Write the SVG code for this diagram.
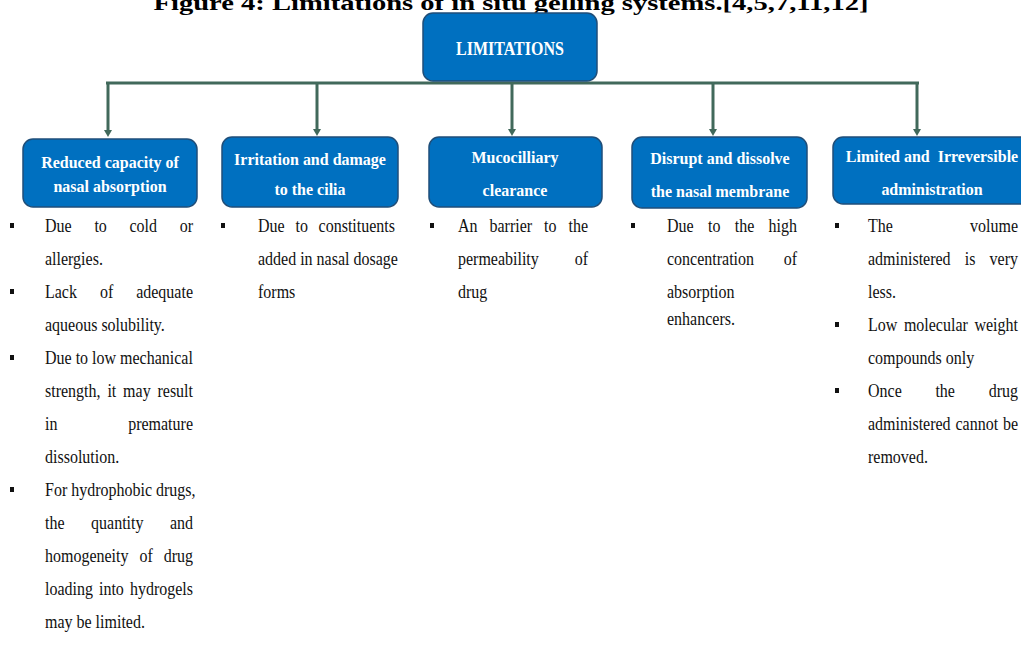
<svg xmlns="http://www.w3.org/2000/svg" width="1021" height="651" viewBox="0 0 1021 651">
<style>
.box{fill:#0070c0;stroke:#1f4e79;stroke-width:1.5}
.hd{font-family:"Liberation Serif","Times New Roman",serif;font-weight:bold;font-size:16px;fill:#ffffff;text-anchor:middle}
.bd{font-family:"Liberation Serif","Times New Roman",serif;font-size:16px;fill:#111111}
.e{text-anchor:end}
.conn{stroke:#41695b;stroke-width:3;fill:none}
.bul{fill:#111111}
.ttl{font-family:"Liberation Serif","Times New Roman",serif;font-weight:bold;font-size:20px;fill:#000000;text-anchor:middle}
</style>
<defs>
<marker id="ah" markerUnits="userSpaceOnUse" markerWidth="9" markerHeight="9" refX="1" refY="4" orient="auto">
<path d="M0,0 L7,4 L0,8 z" fill="#41695b"/>
</marker>
</defs>
<rect width="1021" height="651" fill="#ffffff"/>
<text class="ttl" x="511" y="10" textLength="715" lengthAdjust="spacingAndGlyphs">Figure 4: Limitations of in situ gelling systems.[4,5,7,11,12]</text>

<g id="connectors">
<path class="conn" d="M106,83 H919"/>
<path class="conn" d="M108,83 V131" marker-end="url(#ah)"/>
<path class="conn" d="M317,83 V130" marker-end="url(#ah)"/>
<path class="conn" d="M512,83 V130" marker-end="url(#ah)"/>
<path class="conn" d="M713,83 V130" marker-end="url(#ah)"/>
<path class="conn" d="M917,83 V130" marker-end="url(#ah)"/>
</g>

<g id="limitations">
<rect class="box" x="423" y="13" width="174" height="68" rx="10"/>
<text class="hd" x="510" y="55" font-size="15.5" transform="matrix(1 0 0 1.2 0 -11)">LIMITATIONS</text>
</g>

<g id="n1">
<rect class="box" x="23" y="139" width="174" height="68" rx="10"/>
<text class="hd" x="110" y="168" transform="matrix(1 0 0 1.1 0 -16.8)">Reduced capacity of</text>
<text class="hd" x="110" y="192" transform="matrix(1 0 0 1.1 0 -19.2)">nasal absorption</text>
</g>
<g id="n2">
<rect class="box" x="222" y="137" width="176" height="70" rx="10"/>
<text class="hd" x="310" y="165" transform="matrix(1 0 0 1.1 0 -16.5)">Irritation and damage</text>
<text class="hd" x="310" y="195" transform="matrix(1 0 0 1.1 0 -19.5)">to the cilia</text>
</g>
<g id="n3">
<rect class="box" x="429" y="137" width="173" height="70" rx="10"/>
<text class="hd" x="515" y="163" transform="matrix(1 0 0 1.1 0 -16.3)">Mucocilliary</text>
<text class="hd" x="515" y="196" transform="matrix(1 0 0 1.1 0 -19.6)">clearance</text>
</g>
<g id="n4">
<rect class="box" x="632" y="137" width="175" height="71" rx="10"/>
<text class="hd" x="720" y="164" transform="matrix(1 0 0 1.1 0 -16.4)">Disrupt and dissolve</text>
<text class="hd" x="720" y="197" transform="matrix(1 0 0 1.1 0 -19.7)">the nasal membrane</text>
</g>
<g id="n5">
<rect class="box" x="833" y="137" width="200" height="67" rx="10"/>
<text class="hd" x="932" y="162" transform="matrix(1 0 0 1.1 0 -16.2)" xml:space="preserve">Limited and  Irreversible</text>
<text class="hd" x="932" y="195" transform="matrix(1 0 0 1.1 0 -19.5)">administration</text>
</g>

<g id="list1">
<rect class="bul" x="10" y="223" width="4" height="5"/>
<rect class="bul" x="10" y="289" width="4" height="5"/>
<rect class="bul" x="10" y="355" width="4" height="5"/>
<rect class="bul" x="10" y="487" width="4" height="5"/>
<text class="bd" y="232" transform="matrix(1 0 0 1.15 0 -34.8)"><tspan x="45">Due</tspan><tspan x="94.4">to</tspan><tspan x="129.5">cold</tspan><tspan class="e" x="193">or</tspan></text>
<text class="bd" y="265" x="45" transform="matrix(1 0 0 1.15 0 -39.75)">allergies.</text>
<text class="bd" y="298" transform="matrix(1 0 0 1.15 0 -44.7)"><tspan x="45">Lack</tspan><tspan x="99.9">of</tspan><tspan class="e" x="193">adequate</tspan></text>
<text class="bd" y="331" x="45" transform="matrix(1 0 0 1.15 0 -49.65)">aqueous solubility.</text>
<text class="bd" y="364" x="45" transform="matrix(1 0 0 1.15 0 -54.6)">Due to low mechanical</text>
<text class="bd" y="397" transform="matrix(1 0 0 1.15 0 -59.55)"><tspan x="45">strength,</tspan><tspan x="107.4">it</tspan><tspan x="123.1">may</tspan><tspan class="e" x="193">result</tspan></text>
<text class="bd" y="430" transform="matrix(1 0 0 1.15 0 -64.5)"><tspan x="45">in</tspan><tspan class="e" x="193">premature</tspan></text>
<text class="bd" y="463" x="45" transform="matrix(1 0 0 1.15 0 -69.45)">dissolution.</text>
<text class="bd" y="496" x="45" transform="matrix(1 0 0 1.15 0 -74.4)">For hydrophobic drugs,</text>
<text class="bd" y="529" transform="matrix(1 0 0 1.15 0 -79.35)"><tspan x="45">the</tspan><tspan x="91.1">quantity</tspan><tspan class="e" x="193">and</tspan></text>
<text class="bd" y="562" transform="matrix(1 0 0 1.15 0 -84.3)"><tspan x="45">homogeneity</tspan><tspan x="139.5">of</tspan><tspan class="e" x="193">drug</tspan></text>
<text class="bd" y="595" transform="matrix(1 0 0 1.15 0 -89.25)"><tspan x="45">loading</tspan><tspan x="99">into</tspan><tspan class="e" x="193">hydrogels</tspan></text>
<text class="bd" y="628" x="45" transform="matrix(1 0 0 1.15 0 -94.2)">may be limited.</text>
</g>

<g id="list2">
<rect class="bul" x="221" y="223" width="4" height="5"/>
<text class="bd" y="232" transform="matrix(1 0 0 1.15 0 -34.8)"><tspan x="258">Due</tspan><tspan x="295.5">to</tspan><tspan class="e" x="395">constituents</tspan></text>
<text class="bd" y="265" x="258" transform="matrix(1 0 0 1.15 0 -39.75)">added in nasal dosage</text>
<text class="bd" y="298" x="258" transform="matrix(1 0 0 1.15 0 -44.7)">forms</text>
</g>

<g id="list3">
<rect class="bul" x="430" y="223" width="4" height="5"/>
<text class="bd" y="232" transform="matrix(1 0 0 1.15 0 -34.8)"><tspan x="458">An</tspan><tspan x="489.5">barrier</tspan><tspan x="544">to</tspan><tspan class="e" x="588">the</tspan></text>
<text class="bd" y="265" transform="matrix(1 0 0 1.15 0 -39.75)"><tspan x="458">permeability</tspan><tspan class="e" x="588">of</tspan></text>
<text class="bd" y="298" x="458" transform="matrix(1 0 0 1.15 0 -44.7)">drug</text>
</g>

<g id="list4">
<rect class="bul" x="631" y="223" width="4" height="5"/>
<text class="bd" y="232" transform="matrix(1 0 0 1.15 0 -34.8)"><tspan x="667">Due</tspan><tspan x="708">to</tspan><tspan x="734.7">the</tspan><tspan class="e" x="797">high</tspan></text>
<text class="bd" y="265" transform="matrix(1 0 0 1.15 0 -39.75)"><tspan x="667">concentration</tspan><tspan class="e" x="797">of</tspan></text>
<text class="bd" y="298" x="667" transform="matrix(1 0 0 1.15 0 -44.7)">absorption</text>
<text class="bd" y="325" x="667" transform="matrix(1 0 0 1.15 0 -48.75)">enhancers.</text>
</g>

<g id="list5">
<rect class="bul" x="835" y="223" width="4" height="5"/>
<rect class="bul" x="835" y="322" width="4" height="5"/>
<rect class="bul" x="835" y="388" width="4" height="5"/>
<text class="bd" y="232" transform="matrix(1 0 0 1.15 0 -34.8)"><tspan x="868">The</tspan><tspan class="e" x="1018">volume</tspan></text>
<text class="bd" y="265" transform="matrix(1 0 0 1.15 0 -39.75)"><tspan x="868">administered</tspan><tspan x="964.8">is</tspan><tspan class="e" x="1018">very</tspan></text>
<text class="bd" y="298" x="868" transform="matrix(1 0 0 1.15 0 -44.7)">less.</text>
<text class="bd" y="331" transform="matrix(1 0 0 1.15 0 -49.65)"><tspan x="868">Low</tspan><tspan x="903.9">molecular</tspan><tspan class="e" x="1018">weight</tspan></text>
<text class="bd" y="364" x="868" transform="matrix(1 0 0 1.15 0 -54.6)">compounds only</text>
<text class="bd" y="397" transform="matrix(1 0 0 1.15 0 -59.55)"><tspan x="868">Once</tspan><tspan x="935.4">the</tspan><tspan class="e" x="1018">drug</tspan></text>
<text class="bd" y="430" transform="matrix(1 0 0 1.15 0 -64.5)"><tspan x="868">administered</tspan><tspan x="955.5">cannot</tspan><tspan class="e" x="1018">be</tspan></text>
<text class="bd" y="463" x="868" transform="matrix(1 0 0 1.15 0 -69.45)">removed.</text>
</g>
</svg>
